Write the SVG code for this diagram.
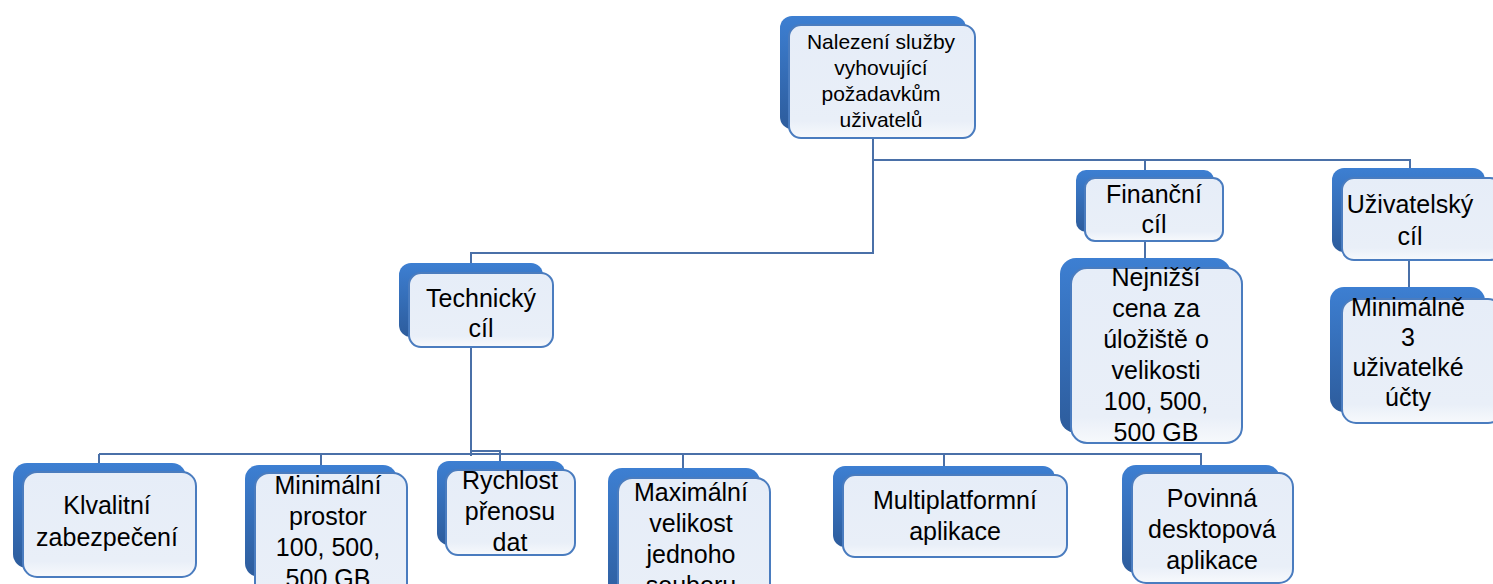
<svg xmlns="http://www.w3.org/2000/svg" width="1493" height="584" viewBox="0 0 1493 584">
<defs>
<linearGradient id="gBack" x1="0" y1="0" x2="0" y2="1">
<stop offset="0" stop-color="#3d7fd2"/>
<stop offset="1" stop-color="#2d5c9c"/>
</linearGradient>
<linearGradient id="gFront" x1="0" y1="0" x2="0" y2="1">
<stop offset="0" stop-color="#e6edf8"/>
<stop offset="0.85" stop-color="#e9eff8"/>
<stop offset="1" stop-color="#f7f9fc"/>
</linearGradient>
</defs>
<style>
.back{fill:url(#gBack);}
.front{fill:url(#gFront);stroke:#4a7cbf;stroke-width:2;}
.t{font-family:"Liberation Sans",Arial,sans-serif;font-size:25px;fill:#000;text-anchor:middle;}
.ts{font-size:21px;}
.c{fill:none;stroke:#4a70a8;stroke-width:2;}
</style>
<rect width="1493" height="584" fill="#ffffff"/>
<g id="connectors">
<path class="c" d="M873 138 V253 H471 V263"/>
<path class="c" d="M873 160 H1410 V168"/>
<path class="c" d="M1145 160 V170"/>
<path class="c" d="M1145 241 V258"/>
<path class="c" d="M1409 260 V290"/>
<path class="c" d="M471 347 V456"/>
<path class="c" d="M99 454 H1201 V465"/>
<path class="c" d="M99 454 V463"/>
<path class="c" d="M321 454 V465"/>
<path class="c" d="M471 451 H500 V461"/>
<path class="c" d="M683 454 V468"/>
<path class="c" d="M944 454 V466"/>
</g>
<g id="n-root">
<rect class="back" x="780" y="16" width="186" height="113" rx="12"/>
<rect class="front" x="789" y="25" width="186" height="113" rx="12"/>
<text class="t ts" x="881" y="49">Nalezení služby</text>
<text class="t ts" x="881" y="75">vyhovující</text>
<text class="t ts" x="881" y="101">požadavkům</text>
<text class="t ts" x="881" y="127">uživatelů</text>
</g>
<g id="n-technicky">
<rect class="back" x="399" y="263" width="144" height="74" rx="12"/>
<rect class="front" x="409" y="273" width="144" height="74" rx="12"/>
<text class="t" x="481" y="307">Technický</text>
<text class="t" x="481" y="337">cíl</text>
</g>
<g id="n-financni">
<rect class="back" x="1076" y="170" width="138" height="62" rx="10"/>
<rect class="front" x="1085" y="178" width="138" height="63" rx="10"/>
<text class="t" x="1154" y="203">Finanční</text>
<text class="t" x="1154" y="233">cíl</text>
</g>
<g id="n-nejnizsi">
<rect class="back" x="1060" y="258" width="171" height="175" rx="16"/>
<rect class="front" x="1071" y="268" width="171" height="175" rx="16"/>
<text class="t" x="1156" y="286">Nejnižší</text>
<text class="t" x="1156" y="317">cena za</text>
<text class="t" x="1156" y="348">úložiště o</text>
<text class="t" x="1156" y="379">velikosti</text>
<text class="t" x="1156" y="410">100, 500,</text>
<text class="t" x="1156" y="441">500 GB</text>
</g>
<g id="n-uzivatelsky">
<rect class="back" x="1332" y="168" width="153" height="84" rx="12"/>
<rect class="front" x="1342" y="178" width="160" height="82" rx="12"/>
<text class="t" x="1410" y="213">Uživatelský</text>
<text class="t" x="1410" y="245">cíl</text>
</g>
<g id="n-minimalne">
<rect class="back" x="1330" y="287" width="155" height="125" rx="14"/>
<rect class="front" x="1342" y="299" width="160" height="124" rx="14"/>
<text class="t" x="1408" y="316">Minimálně</text>
<text class="t" x="1408" y="346">3</text>
<text class="t" x="1408" y="376">uživatelké</text>
<text class="t" x="1408" y="406">účty</text>
</g>
<g id="n-kvalitni">
<rect class="back" x="13" y="463" width="173" height="105" rx="14"/>
<rect class="front" x="23" y="472" width="173" height="105" rx="14"/>
<text class="t" x="107" y="514">Klvalitní</text>
<text class="t" x="107" y="546">zabezpečení</text>
</g>
<g id="n-prostor">
<rect class="back" x="245" y="465" width="152" height="112" rx="14"/>
<rect class="front" x="255" y="473" width="152" height="140" rx="14"/>
<text class="t" x="328" y="494">Minimální</text>
<text class="t" x="328" y="525">prostor</text>
<text class="t" x="328" y="556">100, 500,</text>
<text class="t" x="328" y="587">500 GB</text>
</g>
<g id="n-rychlost">
<rect class="back" x="437" y="461" width="128" height="84" rx="12"/>
<rect class="front" x="446" y="470" width="129" height="85" rx="12"/>
<text class="t" x="510" y="489">Rychlost</text>
<text class="t" x="510" y="520">přenosu</text>
<text class="t" x="510" y="551">dat</text>
</g>
<g id="n-maximalni">
<rect class="back" x="608" y="468" width="152" height="140" rx="14"/>
<rect class="front" x="618" y="478" width="152" height="140" rx="14"/>
<text class="t" x="691" y="501">Maximální</text>
<text class="t" x="691" y="532">velikost</text>
<text class="t" x="691" y="563">jednoho</text>
<text class="t" x="691" y="594">souboru</text>
</g>
<g id="n-multi">
<rect class="back" x="833" y="466" width="222" height="81" rx="12"/>
<rect class="front" x="843" y="475" width="224" height="82" rx="12"/>
<text class="t" x="955" y="509">Multiplatformní</text>
<text class="t" x="955" y="540">aplikace</text>
</g>
<g id="n-povinna">
<rect class="back" x="1122" y="465" width="158" height="108" rx="14"/>
<rect class="front" x="1132" y="473" width="161" height="110" rx="14"/>
<text class="t" x="1212" y="507">Povinná</text>
<text class="t" x="1212" y="538">desktopová</text>
<text class="t" x="1212" y="569">aplikace</text>
</g>
</svg>
